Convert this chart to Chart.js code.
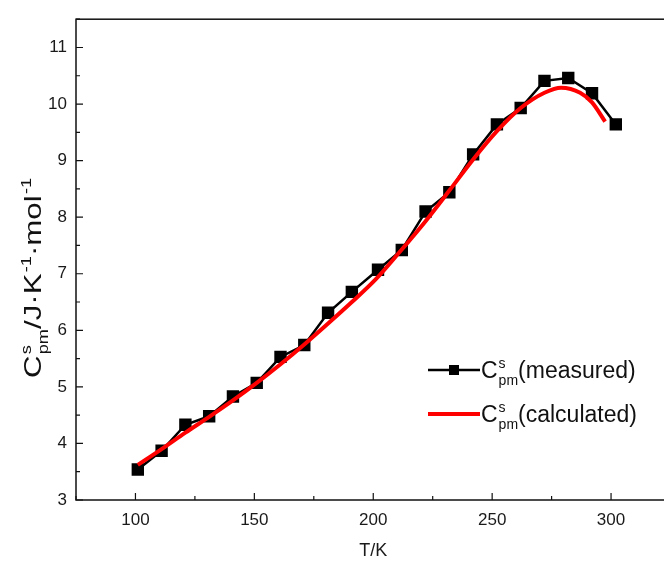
<!DOCTYPE html>
<html>
<head>
<meta charset="utf-8">
<script src="https://cdn.jsdelivr.net/npm/chart.js@4.4.0/dist/chart.umd.min.js"></script>
<style>
  body { margin: 0; background: #fff; overflow: hidden; }
  #wrap { width: 664px; height: 562px; overflow: hidden; }
</style>
</head>
<body>
<div id="wrap"><canvas id="myChart" width="680" height="562"></canvas></div>
<script>
// measured heat capacity points
const measuredT = [101, 111, 121, 131, 141, 151, 161, 171, 181, 191, 202, 212, 222, 232, 242, 252, 262, 272, 282, 292, 302];
const measuredCp = [3.54, 3.87, 4.33, 4.48, 4.83, 5.07, 5.53, 5.74, 6.31, 6.68, 7.07, 7.42, 8.10, 8.44, 9.11, 9.64, 9.93, 10.41, 10.46, 10.19, 9.64];
// fitted curve
const calcT = [101, 111, 121, 131, 141, 151, 161, 171, 181, 191, 201, 211, 222, 232, 242, 252, 262, 272, 279, 287, 292, 297.5];
const calcCp = [3.62, 3.90, 4.19, 4.47, 4.76, 5.07, 5.40, 5.75, 6.12, 6.50, 6.90, 7.38, 7.93, 8.47, 9.02, 9.52, 9.93, 10.20, 10.29, 10.20, 10.03, 9.69];

const xTicks = [100, 150, 200, 250, 300];
const yTicks = [3, 4, 5, 6, 7, 8, 9, 10, 11];

const FONT = "'Liberation Sans', Arial, sans-serif";

const toPoints = (xs, ys) => xs.map((x, i) => ({ x: x, y: ys[i] }));

// text with C^s_pm style pieces
function richWidth(ctx, parts, size) {
    let w = 0;
    parts.forEach((p) => {
        if (p.t) {
            ctx.font = size + "px " + FONT;
            w += ctx.measureText(p.t).width;
        } else {
            ctx.font = Math.round(size * 0.6) + "px " + FONT;
            w += Math.max(ctx.measureText(p.sup || "").width, ctx.measureText(p.sub || "").width) + 1;
        }
    });
    return w;
}

function drawRich(ctx, parts, x, y, size) {
    ctx.textBaseline = "alphabetic";
    ctx.textAlign = "left";
    parts.forEach((p) => {
        if (p.t) {
            ctx.font = size + "px " + FONT;
            ctx.fillText(p.t, x, y);
            x += ctx.measureText(p.t).width;
        } else {
            ctx.font = Math.round(size * 0.6) + "px " + FONT;
            let w = 0;
            if (p.sup) {
                ctx.fillText(p.sup, x + 1, y - size * 0.42);
                w = ctx.measureText(p.sup).width;
            }
            if (p.sub) {
                ctx.fillText(p.sub, x + 1, y + size * 0.3);
                w = Math.max(w, ctx.measureText(p.sub).width);
            }
            x += w + 1;
        }
    });
}

const framePlugin = {
    id: "frame",
    afterDraw(chart) {
        const ctx = chart.ctx;
        const a = chart.chartArea;
        const xs = chart.scales.x;
        const ys = chart.scales.y;
        ctx.save();
        ctx.strokeStyle = "#111";
        ctx.lineWidth = 1.5;
        ctx.strokeRect(a.left, a.top, a.right - a.left, a.bottom - a.top);
        ctx.lineWidth = 1.2;
        ctx.beginPath();
        for (let v = 75; v <= 325; v += 25) {
            const px = xs.getPixelForValue(v);
            const len = v % 50 === 0 ? 7 : 4;
            ctx.moveTo(px, a.bottom);
            ctx.lineTo(px, a.bottom - len);
        }
        for (let v = 3; v <= 11.5; v += 0.5) {
            const py = ys.getPixelForValue(v);
            const len = v % 1 === 0 ? 7 : 4;
            ctx.moveTo(a.left, py);
            ctx.lineTo(a.left + len, py);
        }
        ctx.stroke();

        // y title, a bit drawn out along its length like the original
        ctx.fillStyle = "#111";
        const yParts = [{ t: "C" }, { sup: "s", sub: "pm" }, { t: "/J·K" }, { sup: "-1" }, { t: "·mol" }, { sup: "-1" }];
        ctx.translate(41, 278);
        ctx.rotate(-Math.PI / 2);
        ctx.scale(1.3, 1);
        const w = richWidth(ctx, yParts, 24);
        drawRich(ctx, yParts, -w / 2, 0, 24);
        ctx.restore();

        // legend
        ctx.save();
        ctx.fillStyle = "#111";
        ctx.strokeStyle = "#000";
        ctx.lineWidth = 2.5;
        ctx.beginPath();
        ctx.moveTo(428, 370);
        ctx.lineTo(480, 370);
        ctx.stroke();
        ctx.fillStyle = "#000";
        ctx.fillRect(449, 365, 10, 10);
        ctx.strokeStyle = "#ff0000";
        ctx.lineWidth = 4;
        ctx.beginPath();
        ctx.moveTo(428, 414);
        ctx.lineTo(480, 414);
        ctx.stroke();
        ctx.fillStyle = "#111";
        drawRich(ctx, [{ t: "C" }, { sup: "s", sub: "pm" }, { t: "(measured)" }], 481, 378, 23);
        drawRich(ctx, [{ t: "C" }, { sup: "s", sub: "pm" }, { t: "(calculated)" }], 481, 422, 23);
        ctx.restore();
    }
};

new Chart(document.getElementById("myChart"), {
    type: "line",
    data: {
        datasets: [{
            label: "measured",
            data: toPoints(measuredT, measuredCp),
            borderColor: "#000000",
            backgroundColor: "#000000",
            borderWidth: 2.5,
            pointStyle: "rect",
            pointRadius: 7,
            pointHoverRadius: 7,
            tension: 0,
            order: 2
        }, {
            label: "calculated",
            data: toPoints(calcT, calcCp),
            borderColor: "#ff0000",
            borderWidth: 4,
            pointRadius: 0,
            cubicInterpolationMode: "monotone",
            order: 1
        }]
    },
    options: {
        responsive: false,
        animation: false,
        layout: { padding: { left: 0, top: 13, right: 7, bottom: 0 } },
        plugins: {
            legend: { display: false },
            tooltip: { enabled: false }
        },
        scales: {
            x: {
                type: "linear",
                min: 75,
                max: 325,
                afterBuildTicks: (scale) => { scale.ticks = xTicks.map((v) => ({ value: v })); },
                afterFit: (scale) => { scale.height = 62; },
                grid: { display: false, drawTicks: false },
                border: { display: false },
                ticks: { padding: 10, color: "#1a1a1a", font: { family: FONT, size: 17 } },
                title: { display: true, text: "T/K", color: "#1a1a1a", font: { family: FONT, size: 18 }, padding: { top: 0, bottom: 0 } }
            },
            y: {
                type: "linear",
                min: 3,
                max: 11.5,
                afterBuildTicks: (scale) => { scale.ticks = yTicks.map((v) => ({ value: v })); },
                afterFit: (scale) => { scale.width = 76; },
                grid: { display: false, drawTicks: false },
                border: { display: false },
                ticks: { padding: 9, color: "#1a1a1a", font: { family: FONT, size: 17 } }
            }
        }
    },
    plugins: [framePlugin]
});
</script>
</body>
</html>
